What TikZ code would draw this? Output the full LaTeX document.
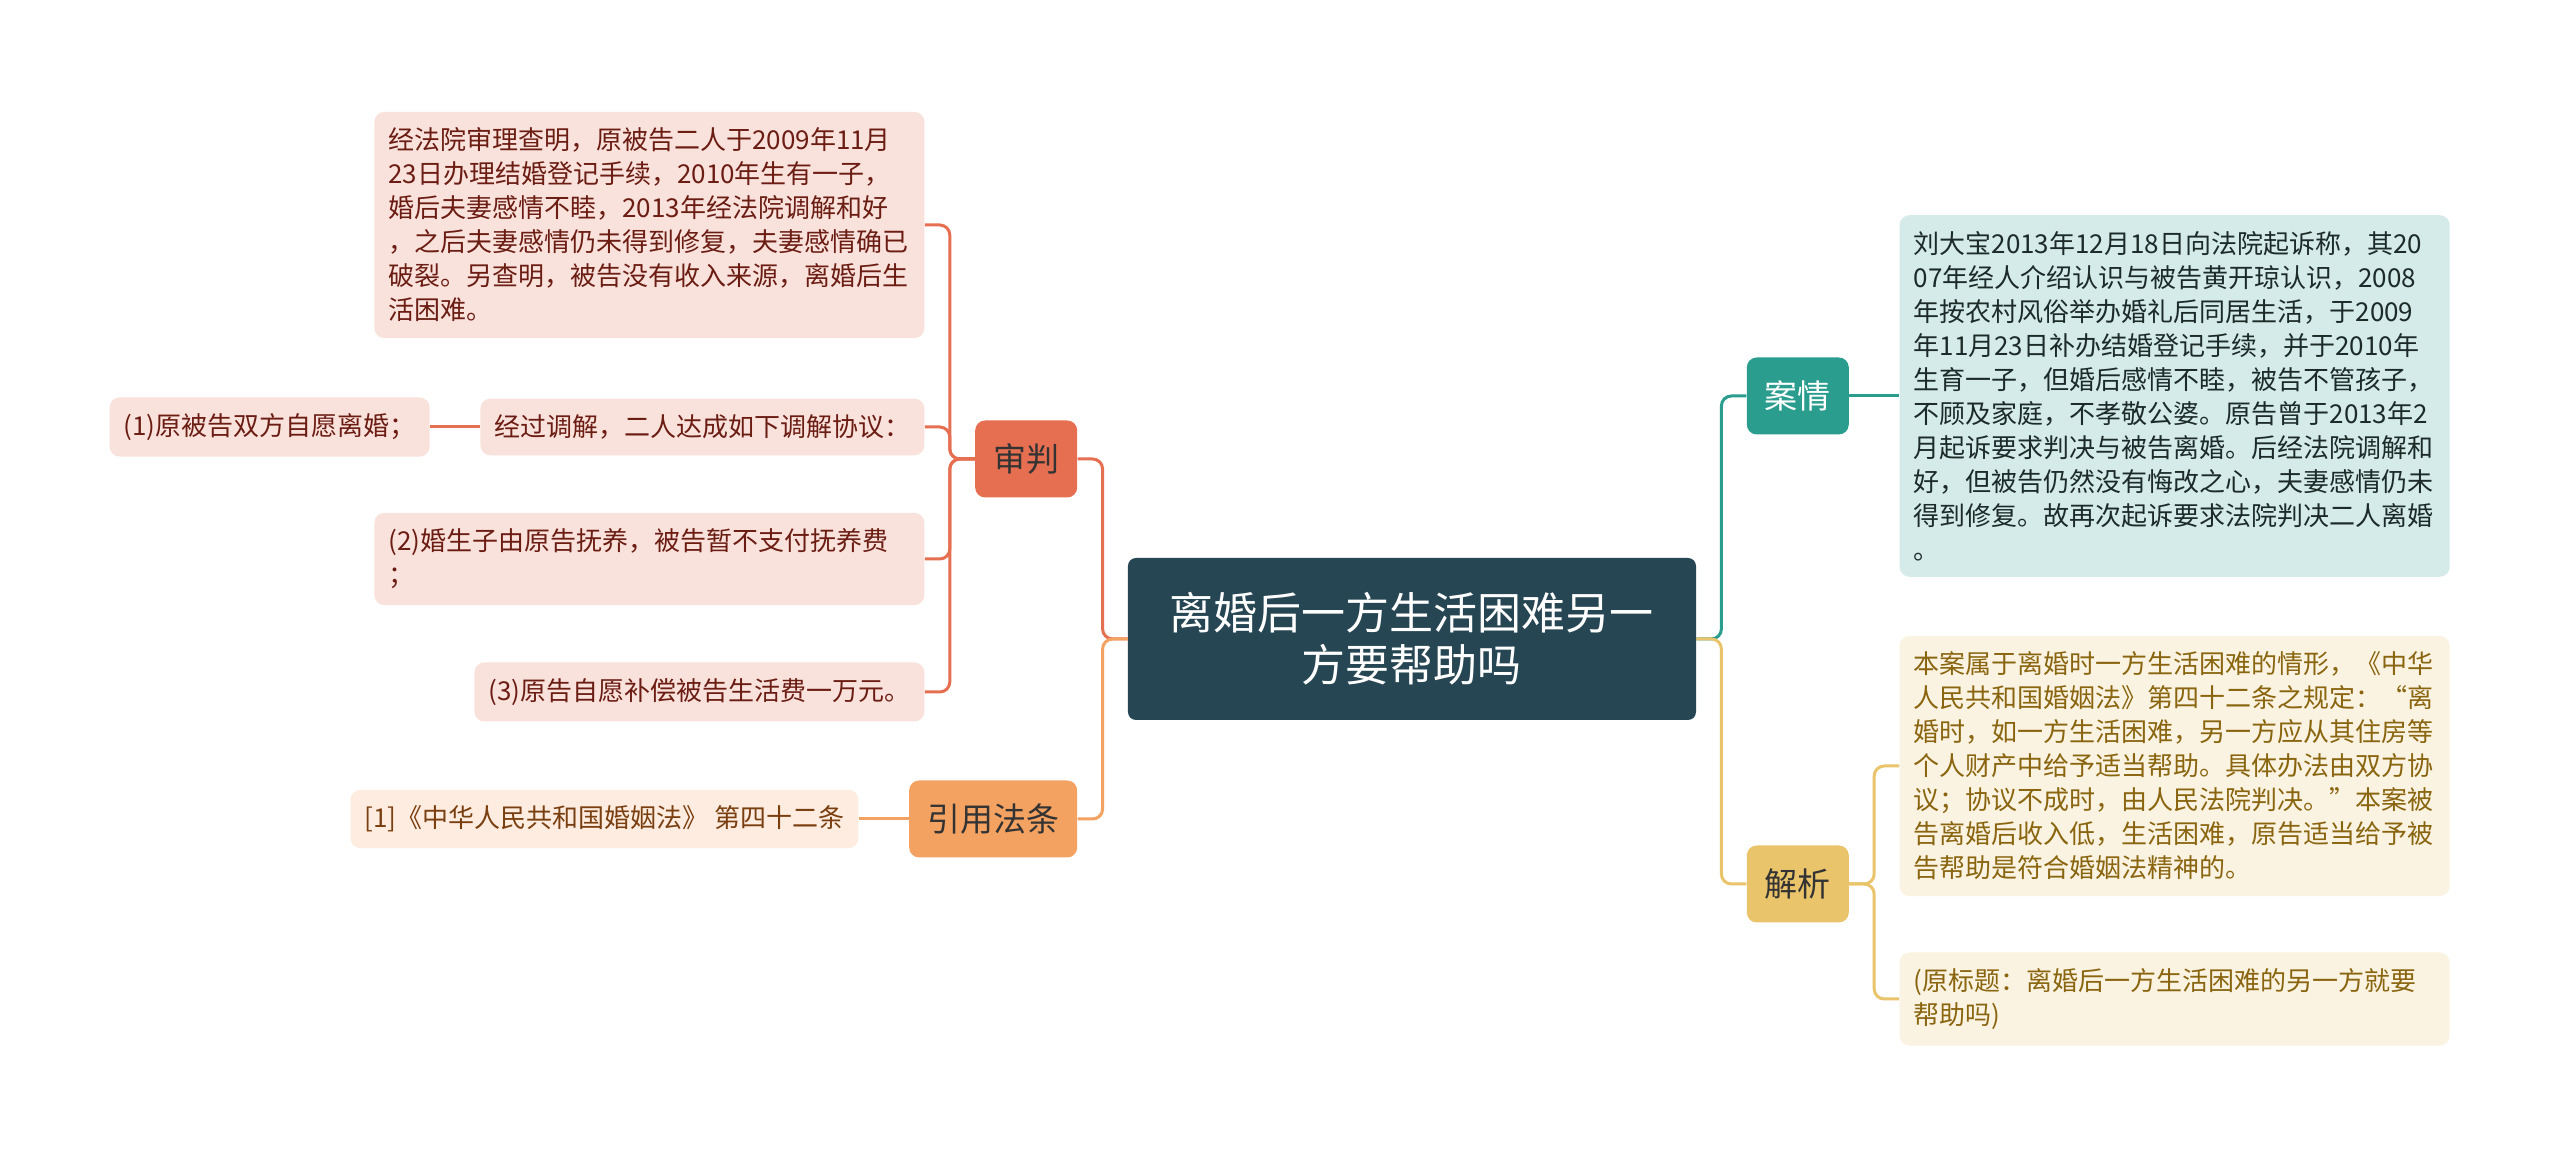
\documentclass[tikz,border=0pt]{standalone}
\usepackage{fontspec}
\setmainfont{Noto Sans CJK SC}
\usetikzlibrary{positioning}
\definecolor{rootc}{HTML}{264653}
\definecolor{shenc}{HTML}{E76F51}
\definecolor{yinc}{HTML}{F4A261}
\definecolor{anc}{HTML}{2A9D8F}
\definecolor{jiec}{HTML}{E9C46A}
\definecolor{shentxt}{HTML}{6B1D13}
\definecolor{yintxt}{HTML}{7A3F10}
\definecolor{antxt}{HTML}{1C2A28}
\definecolor{jietxt}{HTML}{8A6510}

\begin{document}
\begin{tikzpicture}[
  node distance=25pt,
  topic/.style={fill=rootc, text=white, rounded corners=4pt, align=center,
                font=\fontsize{22}{26}\selectfont, minimum width=284pt, minimum height=81pt},
  branch/.style={fill=#1, rounded corners=5pt, font=\fontsize{16.5}{20}\selectfont,
                 inner xsep=9pt, minimum height=38.5pt, text=black!80},
  leaf/.style={fill=#1!20, rounded corners=5pt, align=left, inner xsep=7pt, inner ysep=8pt,
               font=\fontsize{13}{17}\selectfont},
  wide/.style={text width=261pt},
  link/.style={draw=#1, line width=1.5pt, rounded corners=5pt}]
\useasboundingbox[fill=white] (-706pt,-260pt) rectangle (574pt,319.5pt);

\node[topic] (root) {离婚后一方生活困难另一\\方要帮助吗};

\node[branch=shenc, left=of root, yshift=90pt] (shen) {审判};
\node[branch=yinc, left=of root, yshift=-90pt] (yin) {引用法条};
\node[branch=anc, text=white, right=of root, yshift=121.5pt] (an) {案情};
\node[branch=jiec, right=of root, yshift=-122.5pt] (jie) {解析};

\node[leaf=shenc, wide, text=shentxt, left=of shen, yshift=117pt] (cha) {经法院审理查明，原被告二人于2009年11月\\23日办理结婚登记手续，2010年生有一子，\\婚后夫妻感情不睦，2013年经法院调解和好\\，之后夫妻感情仍未得到修复，夫妻感情确已\\破裂。另查明，被告没有收入来源，离婚后生\\活困难。};
\node[leaf=shenc, text=shentxt, left=of shen, yshift=16pt] (tj) {经过调解，二人达成如下调解协议：};
\node[leaf=shenc, text=shentxt, left=of tj] (xy1) {(1)原被告双方自愿离婚；};
\node[leaf=shenc, wide, text=shentxt, left=of shen, yshift=-50pt] (xy2) {(2)婚生子由原告抚养，被告暂不支付抚养费\\；};
\node[leaf=shenc, text=shentxt, left=of shen, yshift=-116.5pt] (xy3) {(3)原告自愿补偿被告生活费一万元。};

\node[leaf=yinc, text=yintxt, left=of yin] (law) {[1]《中华人民共和国婚姻法》 第四十二条};

\node[leaf=anc, wide, text=antxt, right=of an] (case) {刘大宝2013年12月18日向法院起诉称，其20\\07年经人介绍认识与被告黄开琼认识，2008\\年按农村风俗举办婚礼后同居生活，于2009\\年11月23日补办结婚登记手续，并于2010年\\生育一子，但婚后感情不睦，被告不管孩子，\\不顾及家庭，不孝敬公婆。原告曾于2013年2\\月起诉要求判决与被告离婚。后经法院调解和\\好，但被告仍然没有悔改之心，夫妻感情仍未\\得到修复。故再次起诉要求法院判决二人离婚\\。};

\node[leaf=jiec, wide, text=jietxt, right=of jie, yshift=59pt] (jx1) {本案属于离婚时一方生活困难的情形，《中华\\人民共和国婚姻法》第四十二条之规定：“离\\婚时，如一方生活困难，另一方应从其住房等\\个人财产中给予适当帮助。具体办法由双方协\\议；协议不成时，由人民法院判决。”本案被\\告离婚后收入低，生活困难，原告适当给予被\\告帮助是符合婚姻法精神的。};
\node[leaf=jiec, wide, text=jietxt, right=of jie, yshift=-57.5pt] (jx2) {(原标题：离婚后一方生活困难的另一方就要\\帮助吗)};

\draw[link=shenc] (root.west) -- ++(-12.5pt,0) |- (shen.east);
\draw[link=yinc] (root.west) -- ++(-12.5pt,0) |- (yin.east);
\draw[link=anc] (root.east) -- ++(12.5pt,0) |- (an.west);
\draw[link=jiec] (root.east) -- ++(12.5pt,0) |- (jie.west);

\draw[link=shenc] (shen.west) -- ++(-12.5pt,0) |- (cha.east);
\draw[link=shenc] (shen.west) -- ++(-12.5pt,0) |- (tj.east);
\draw[link=shenc] (shen.west) -- ++(-12.5pt,0) |- (xy2.east);
\draw[link=shenc] (shen.west) -- ++(-12.5pt,0) |- (xy3.east);
\draw[link=shenc] (tj.west) -- (xy1.east);

\draw[link=yinc] (yin.west) -- (law.east);
\draw[link=anc] (an.east) -- (case.west);

\draw[link=jiec] (jie.east) -- ++(12.5pt,0) |- (jx1.west);
\draw[link=jiec] (jie.east) -- ++(12.5pt,0) |- (jx2.west);
\end{tikzpicture}
\end{document}
